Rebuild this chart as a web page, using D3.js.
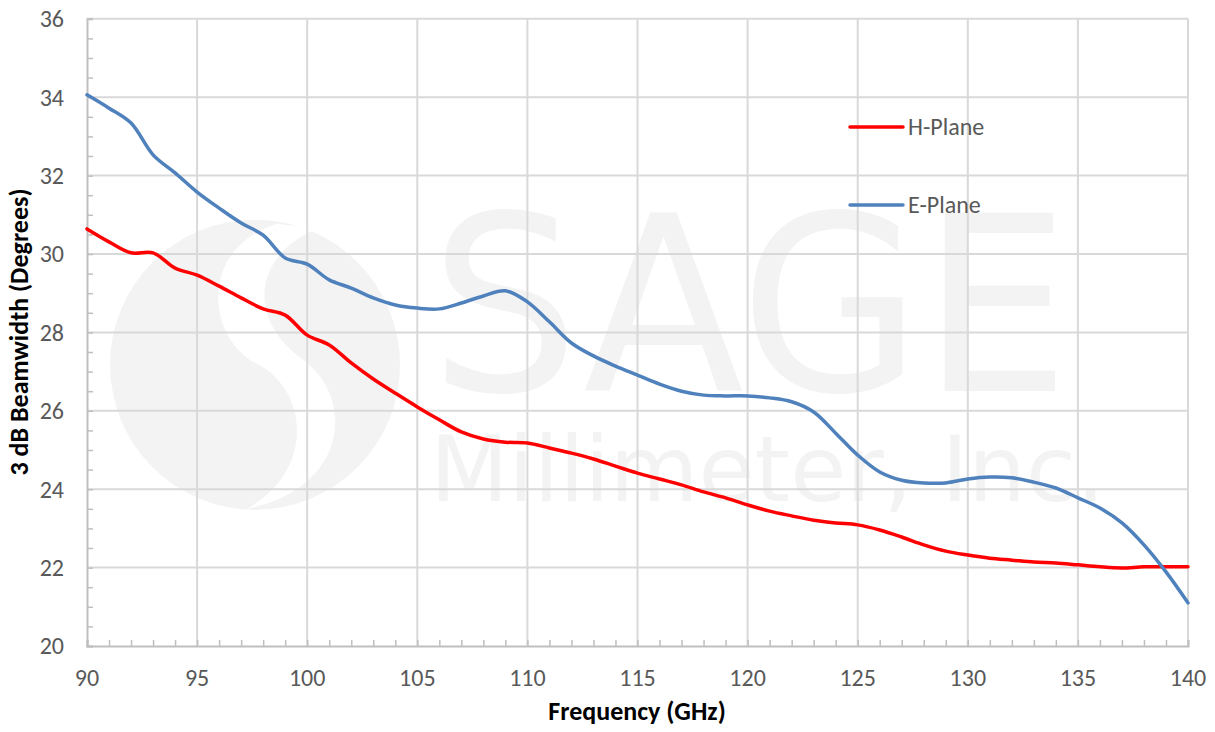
<!DOCTYPE html>
<html>
<head>
<meta charset="utf-8">
<script src="https://cdn.jsdelivr.net/npm/d3@7"></script>
<style>
  body { margin: 0; background: #fff; }
  svg text { font-family: Carlito, Calibri, "Open Sans", "Noto Sans", sans-serif; }
</style>
</head>
<body>
<svg id="chart" width="1215" height="732"></svg>
<script>
// frequency samples (GHz), 1 GHz step
const freq = d3.range(90, 141);

const hPlane = [30.64, 30.31, 30.03, 30.03, 29.64, 29.46, 29.18, 28.88, 28.60, 28.44,
  27.93, 27.68, 27.22, 26.81, 26.45, 26.10, 25.77, 25.46, 25.28, 25.20,
  25.18, 25.05, 24.92, 24.77, 24.59, 24.41, 24.26, 24.11, 23.93, 23.78,
  23.60, 23.44, 23.32, 23.21, 23.14, 23.09, 22.96, 22.78, 22.58, 22.42,
  22.32, 22.24, 22.19, 22.14, 22.12, 22.07, 22.02, 21.99, 22.02, 22.02, 22.02];

const ePlane = [34.06, 33.72, 33.34, 32.53, 32.07, 31.58, 31.17, 30.79, 30.48, 29.90,
  29.74, 29.34, 29.13, 28.88, 28.70, 28.62, 28.60, 28.75, 28.93, 29.06,
  28.78, 28.27, 27.73, 27.40, 27.14, 26.91, 26.68, 26.50, 26.40, 26.38,
  26.38, 26.33, 26.23, 25.97, 25.43, 24.87, 24.44, 24.23, 24.16, 24.16,
  24.26, 24.31, 24.29, 24.18, 24.03, 23.78, 23.52, 23.14, 22.58, 21.89, 21.10];

const xTicks = [90, 95, 100, 105, 110, 115, 120, 125, 130, 135, 140];
const yTicks = [20, 22, 24, 26, 28, 30, 32, 34, 36];

const series = [
  { name: "H-Plane", values: hPlane, color: "#ff0000" },
  { name: "E-Plane", values: ePlane, color: "#4f81bd" }
];

const svg = d3.select("#chart");
const margin = { top: 18.8, left: 87, right: 27, bottom: 86 };
const width = 1215 - margin.left - margin.right,
      height = 732 - margin.top - margin.bottom;

const x = d3.scaleLinear().domain([90, 140]).range([0, width]);
const y = d3.scaleLinear().domain([20, 36]).range([height, 0]);

const g = svg.append("g")
  .attr("transform", `translate(${margin.left}, ${margin.top})`);

// watermark (logo + company name), sits behind the grid
const wm = g.append("g").style("fill", "#f3f3f3");
wm.append("circle").attr("cx", 168).attr("cy", 346).attr("r", 145);
wm.append("path")
  .attr("d", "M 190 205 C 110 230 120 320 170 345 C 220 370 230 450 160 490 C 260 470 270 380 215 340 C 165 305 160 240 230 210 Z")
  .style("fill", "#fff");
wm.append("text")
  .attr("x", 343).attr("y", 372)
  .style("font-family", "'DejaVu Sans', sans-serif")
  .style("font-size", "245px")
  .attr("textLength", 640)
  .attr("lengthAdjust", "spacingAndGlyphs")
  .text("SAGE");
wm.append("text")
  .attr("x", 343).attr("y", 482)
  .style("font-family", "'DejaVu Sans', sans-serif")
  .style("font-size", "90px")
  .attr("textLength", 675)
  .attr("lengthAdjust", "spacingAndGlyphs")
  .text("Millimeter, Inc.");

// grid
g.append("g").selectAll("line")
  .data(yTicks.slice(1)).enter()
  .append("line")
    .attr("x1", 0).attr("x2", width)
    .attr("y1", d => y(d)).attr("y2", d => y(d))
    .style("stroke", "#d9d9d9").style("stroke-width", 2);

g.append("g").selectAll("line")
  .data(xTicks.slice(1)).enter()
  .append("line")
    .attr("x1", d => x(d)).attr("x2", d => x(d))
    .attr("y1", 0).attr("y2", height)
    .style("stroke", "#d9d9d9").style("stroke-width", 2);

// axes: minor ticks inside, major labels outside
const xAxis = g.append("g")
  .attr("transform", `translate(0, ${height})`)
  .call(d3.axisBottom(x).tickValues(d3.range(90, 141)).tickSize(-6).tickFormat(""));
const yAxis = g.append("g")
  .call(d3.axisLeft(y).tickValues(d3.range(20, 36.01, 0.5)).tickSize(-6).tickFormat(""));

[xAxis, yAxis].forEach(a => {
  a.select(".domain").style("stroke", "#bfbfbf").style("stroke-width", 2);
  a.selectAll(".tick line").style("stroke", "#bfbfbf").style("stroke-width", 1.5);
});

g.append("g").selectAll("text")
  .data(xTicks).enter()
  .append("text")
    .attr("x", d => x(d))
    .attr("y", height + 32)
    .attr("dy", "0.35em")
    .style("text-anchor", "middle")
    .style("font-size", "24px")
    .style("fill", "#595959")
    .text(d => d);

g.append("g").selectAll("text")
  .data(yTicks).enter()
  .append("text")
    .attr("x", -23)
    .attr("y", d => y(d))
    .attr("dy", "0.35em")
    .style("text-anchor", "end")
    .style("font-size", "24px")
    .style("fill", "#595959")
    .text(d => d);

// axis titles
svg.append("text")
  .attr("x", 637).attr("y", 720)
  .style("text-anchor", "middle")
  .style("font-size", "26px")
  .style("font-weight", "bold")
  .style("fill", "#000")
  .text("Frequency (GHz)");

svg.append("text")
  .attr("transform", "translate(28, 332) rotate(-90)")
  .style("text-anchor", "middle")
  .style("font-size", "26px")
  .style("font-weight", "bold")
  .style("fill", "#000")
  .text("3 dB Beamwidth (Degrees)");

// lines
const line = d3.line()
  .x((d, i) => x(freq[i]))
  .y(d => y(d))
  .curve(d3.curveCatmullRom.alpha(0.5));

series.forEach(s => {
  g.append("path")
    .attr("d", line(s.values))
    .style("fill", "none")
    .style("stroke", s.color)
    .style("stroke-width", 3.5)
    .style("stroke-linecap", "round");
});

// legend
const legend = svg.append("g").attr("transform", "translate(850, 127)");
series.forEach((s, i) => {
  const row = legend.append("g").attr("transform", `translate(0, ${i * 78})`);
  row.append("line")
    .attr("x1", 0).attr("x2", 53)
    .style("stroke", s.color).style("stroke-width", 3.5)
    .style("stroke-linecap", "round");
  row.append("text")
    .attr("x", 58).attr("dy", "0.35em")
    .style("font-size", "24px")
    .style("fill", "#595959")
    .text(s.name);
});
</script>
</body>
</html>
